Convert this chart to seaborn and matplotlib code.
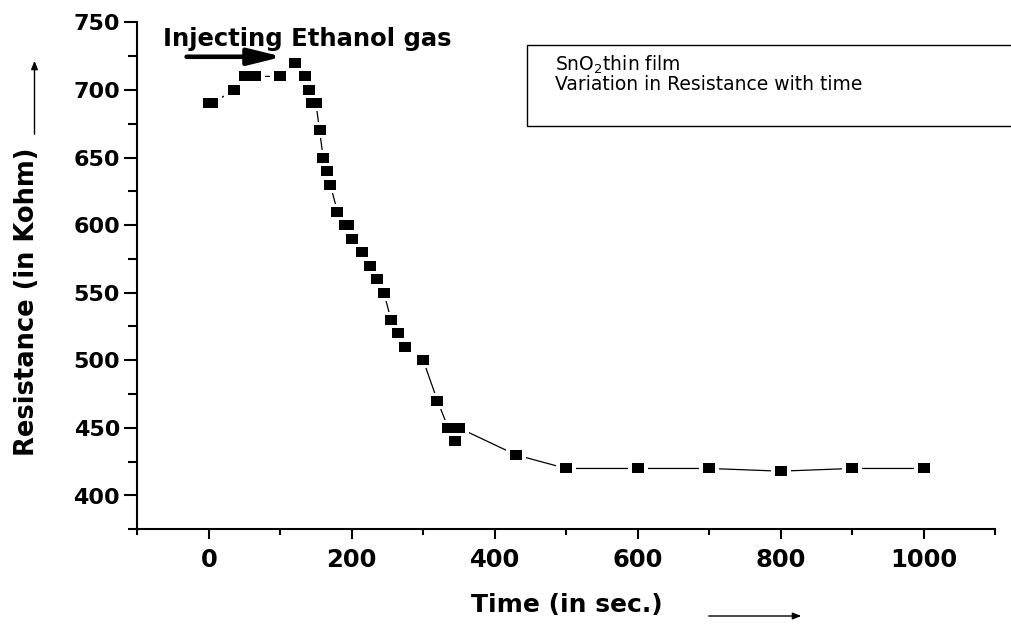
import numpy as np
import pandas as pd
import matplotlib
matplotlib.use("Agg")
import matplotlib.pyplot as plt
from matplotlib.patches import Rectangle, FancyArrowPatch
import seaborn as sns

# Sensor response: resistance of the SnO2 film after ethanol injection
time_s = [0, 5, 35, 50, 65, 100, 120, 135, 140, 145, 150, 155, 160, 165, 170,
          180, 190, 195, 200, 215, 225, 235, 245, 255, 265, 275, 300, 320,
          335, 345, 350, 430, 500, 600, 700, 800, 900, 1000]
resistance_kohm = [690, 690, 700, 710, 710, 710, 720, 710, 700, 690, 690, 670,
                   650, 640, 630, 610, 600, 600, 590, 580, 570, 560, 550, 530,
                   520, 510, 500, 470, 450, 440, 450, 430, 420, 420, 420, 418,
                   420, 420]

x_ticks = [0, 200, 400, 600, 800, 1000]
y_ticks = [400, 450, 500, 550, 600, 650, 700, 750]

df = pd.DataFrame({"time": time_s, "resistance": resistance_kohm})

sns.set_theme(style="ticks")
plt.rcParams["font.family"] = ["DejaVu Sans"]
for key in ("text.color", "axes.labelcolor", "xtick.color", "ytick.color",
            "axes.edgecolor"):
    plt.rcParams[key] = "black"

W, H = 1011, 625
fig = plt.figure(figsize=(W / 100, H / 100), dpi=100)
ax = fig.add_axes([137.3 / W, 1 - 529.3 / H, (995 - 137.3) / W, (529.3 - 22.3) / H])

# rectangular marker, a little wider than tall
rect = [(-1, -0.79), (1, -0.79), (1, 0.79), (-1, 0.79), (-1, -0.79)]

# connecting line, with white halos so it stops short of each marker
sns.lineplot(data=df, x="time", y="resistance", ax=ax, estimator=None, sort=False,
             color="black", linewidth=0.9, marker=rect, markersize=14.5,
             markerfacecolor="white", markeredgewidth=0)
# filled black markers on top
sns.scatterplot(data=df, x="time", y="resistance", ax=ax, marker=rect,
                s=9.2 ** 2, color="black", linewidth=0, zorder=5)

ax.set_xlim(-100, 1100)
ax.set_ylim(375, 750)
ax.set_xticks(x_ticks)
ax.set_yticks(y_ticks)
ax.set_xticks(np.arange(-100, 1101, 200), minor=True)
ax.set_yticks(np.arange(375, 751, 50), minor=True)

for side in ("top", "right"):
    ax.spines[side].set_visible(False)
for side in ("left", "bottom"):
    ax.spines[side].set_linewidth(1.5)
    ax.spines[side].set_color("black")

ax.tick_params(axis="x", which="major", length=7.5, width=1.5, pad=6,
               labelsize=17.5, direction="out", color="black", labelcolor="black")
ax.tick_params(axis="x", which="minor", length=4, width=1.5, direction="out", color="black")
ax.tick_params(axis="y", which="major", length=9.5, width=1.5, pad=3,
               labelsize=16, direction="out", color="black", labelcolor="black")
ax.tick_params(axis="y", which="minor", length=6.5, width=1.5, direction="out", color="black")
for lab in ax.get_xticklabels() + ax.get_yticklabels():
    lab.set_fontweight("bold")

ax.set_xlabel("")
ax.set_ylabel("")

# axis titles with direction arrows
fig.text(567 / W, 1 - 605 / H, "Time (in sec.)", ha="center", va="center",
         fontsize=18, fontweight="bold", color="black")
fig.add_artist(FancyArrowPatch(
    (706 / W, 1 - 616 / H), (804 / W, 1 - 616 / H), transform=fig.transFigure,
    arrowstyle="-|>,head_length=5,head_width=2", mutation_scale=1, color="black", lw=1))

fig.text(27 / W, 1 - 302 / H, "Resistance (in Kohm)", ha="center", va="center",
         rotation=90, fontsize=18.5, fontweight="bold", color="black")
fig.add_artist(FancyArrowPatch(
    (34.5 / W, 1 - 137 / H), (34.5 / W, 1 - 58 / H), transform=fig.transFigure,
    arrowstyle="-|>,head_length=5,head_width=2", mutation_scale=1, color="black", lw=1))

# injection marker
ax.text(-64, 732.4, "Injecting Ethanol gas", ha="left", va="baseline",
        fontsize=17.5, fontweight="bold", color="black")
ax.annotate("", xy=(103, 724.5), xytext=(-31, 724.5),
            arrowprops=dict(arrowstyle="-|>,head_length=1.7,head_width=0.42",
                            color="black", lw=3.3, shrinkA=0, shrinkB=0))

# description box
fig.add_artist(Rectangle((527.3 / W, 1 - 125.7 / H), 0.6, 80.7 / H,
                         transform=fig.transFigure, fill=False, edgecolor="black",
                         linewidth=1.0, clip_on=False))
fig.text(555 / W, 1 - 70.7 / H, "SnO$_{2}$thin film", ha="left", va="baseline",
         fontsize=13.5, color="black")
fig.text(555 / W, 1 - 89.5 / H, "Variation in Resistance with time", ha="left",
         va="baseline", fontsize=13.5, color="black")

fig.savefig("out.png", dpi=100, facecolor="white")
